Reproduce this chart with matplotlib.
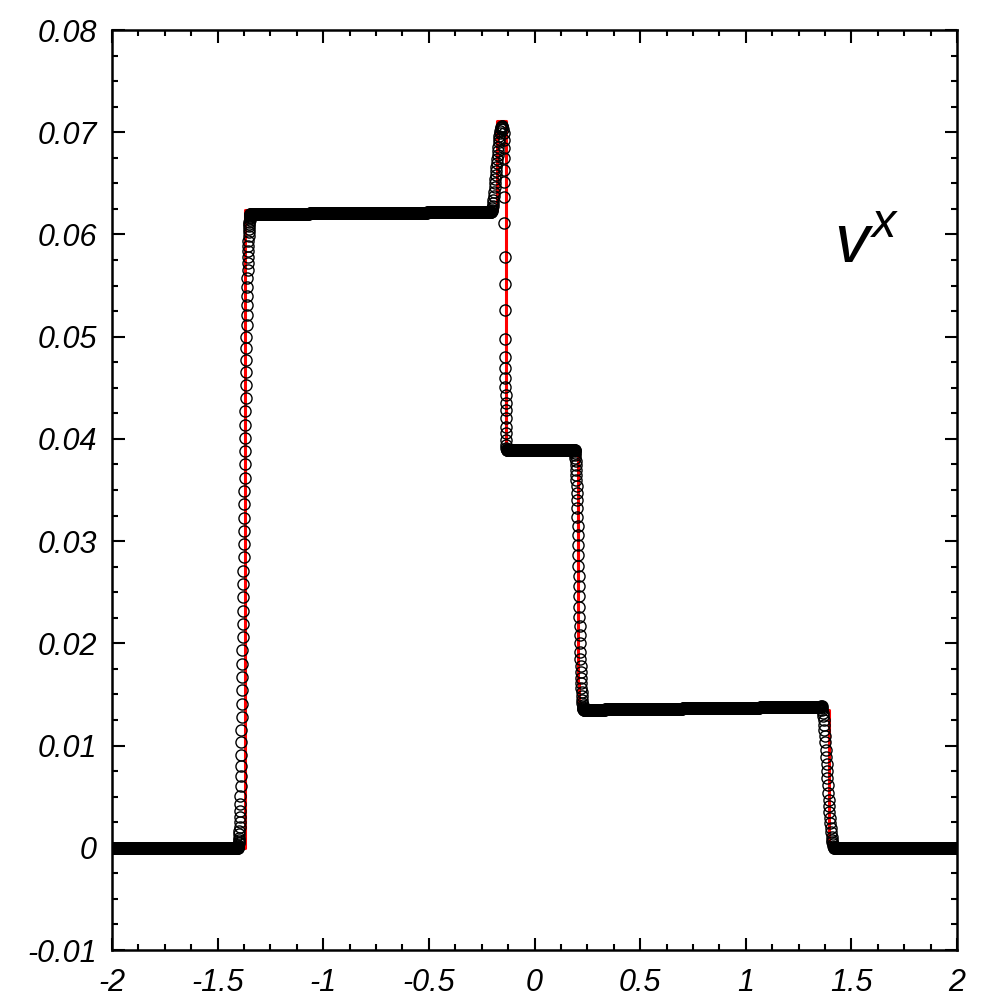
import matplotlib
matplotlib.use('Agg')
import matplotlib.pyplot as plt
from matplotlib.ticker import MultipleLocator
import numpy as np

plt.rcParams['font.family'] = ['Liberation Sans', 'DejaVu Sans']
plt.rcParams['font.style'] = 'italic'
plt.rcParams['mathtext.fontset'] = 'custom'
plt.rcParams['mathtext.it'] = 'Liberation Sans:italic'
plt.rcParams['mathtext.rm'] = 'Liberation Sans:italic'

# exact solution (red line)
exact_x = [-2.0, -1.371, -1.371, -0.178, -0.178, -0.133, -0.133, 0.208, 0.208, 0.212, 0.212, 1.395, 1.395, 2.0]
exact_y = [0.0, 0.0, 0.0624, 0.0624, 0.0711, 0.0711, 0.0389, 0.0389, 0.0161, 0.0161, 0.0135, 0.0135, 0.0, 0.0]

# numerical solution: flat states (x_start, x_end, y_start, y_end)
flat_states = [
    (-2.0, -1.405, 0.0, 0.0),
    (-1.345, -0.205, 0.0620, 0.0622),
    (-0.130, 0.190, 0.0389, 0.0389),
    (0.232, 1.355, 0.0135, 0.0138),
    (1.420, 2.0, 0.0, 0.0),
]

# numerical solution: points through the transitions (values in 1e-3)
left_x = (-1.405, -1.345)
left_y = [0, 0.05, 0.1, 0.2, 0.3, 0.45, 0.6, 0.8, 1.0, 1.3, 1.6, 2.0, 2.5, 3.0, 3.6,
          4.3, 5.1, 6.0, 7.0, 8.0, 9.1, 10.3, 11.5, 12.8, 14.1, 15.4, 16.7, 18.0, 19.3,
          20.6, 21.9, 23.2, 24.5, 25.8, 27.1, 28.4, 29.7, 31.0, 32.3, 33.6, 34.9, 36.2,
          37.5, 38.8, 40.1, 41.4, 42.7, 44.0, 45.3, 46.5, 47.7, 48.9, 50.0, 51.1, 52.1,
          53.1, 54.0, 54.9, 55.7, 56.5, 57.2, 57.8, 58.4, 58.9, 59.4, 59.8, 60.2, 60.5,
          60.8, 61.0, 61.2, 61.4, 61.6, 61.7, 61.8, 61.9, 62.0]

spike_up_x = (-0.205, -0.150)
spike_up_y = [62.2, 62.3, 62.4, 62.6, 62.8, 63.1, 63.4, 63.8, 64.2, 64.6, 65.0, 65.4,
              65.8, 66.2, 66.6, 67.0, 67.4, 67.8, 68.2, 68.6, 69.0, 69.3, 69.6, 69.9,
              70.1, 70.3, 70.45, 70.55, 70.6, 70.6, 70.5, 70.3]
spike_down_x = (-0.146, -0.131)
spike_down_y = [69.9, 69.2, 68.5, 67.5, 66.3, 65.1, 63.7, 61.1, 57.8, 55.2, 52.6, 49.8,
                48.0, 46.9, 46.0, 45.1, 44.3, 43.5, 42.8, 42.0, 41.2, 40.6, 39.9, 39.4,
                39.1, 39.0, 38.95, 38.9]

mid_x = (0.190, 0.232)
mid_y = [38.9, 38.8, 38.6, 38.4, 38.1, 37.8, 37.4, 37.0, 36.5, 36.0, 35.4, 34.7, 34.0,
         33.2, 32.4, 31.5, 30.6, 29.6, 28.6, 27.6, 26.6, 25.6, 24.6, 23.6, 22.6, 21.7,
         20.8, 20.0, 19.2, 18.5, 17.8, 17.2, 16.6, 16.1, 15.6, 15.2, 14.8, 14.5, 14.2,
         14.0, 13.8, 13.7, 13.6, 13.55, 13.5]

right_x = (1.355, 1.420)
right_y = [13.8, 13.9, 13.85, 13.7, 13.5, 13.2, 12.9, 12.5, 12.0, 11.5, 10.9, 10.3, 9.6,
           8.9, 8.2, 7.5, 6.8, 6.1, 5.4, 4.7, 4.1, 3.5, 2.9, 2.4, 1.9, 1.5, 1.1, 0.8,
           0.55, 0.35, 0.2, 0.1, 0.05, 0.0]

xs, ys = [], []
for x0, x1, y0, y1 in flat_states:
    n = int(round((x1 - x0) / 0.0025)) + 1
    xs.append(np.linspace(x0, x1, n))
    ys.append(np.linspace(y0, y1, n))
for (x0, x1), yv in [(left_x, left_y), (spike_up_x, spike_up_y),
                     (spike_down_x, spike_down_y), (mid_x, mid_y), (right_x, right_y)]:
    xs.append(np.linspace(x0, x1, len(yv)))
    ys.append(np.array(yv) * 1e-3)
num_x = np.concatenate(xs)
num_y = np.concatenate(ys)

fig = plt.figure(figsize=(10, 10), dpi=100)
ax = fig.add_axes([0.112, 0.05, 0.845, 0.92])

ax.plot(exact_x, exact_y, color='red', lw=2.2, zorder=1)
ax.plot(num_x, num_y, ls='none', marker='o', ms=8.0, mfc='none', mec='black', mew=1.0, zorder=2)

ax.set_xlim(-2, 2)
ax.set_ylim(-0.01, 0.08)
ax.xaxis.set_major_locator(MultipleLocator(0.5))
ax.xaxis.set_minor_locator(MultipleLocator(0.125))
ax.yaxis.set_major_locator(MultipleLocator(0.01))
ax.yaxis.set_minor_locator(MultipleLocator(0.0025))
ax.xaxis.set_major_formatter(lambda v, p: '0' if abs(v) < 1e-9 else '%g' % v)
ax.yaxis.set_major_formatter(lambda v, p: '0' if abs(v) < 1e-9 else '%g' % round(v, 3))
ax.tick_params(which='both', direction='in', top=True, right=True, width=1.5, labelsize=22)
ax.tick_params(which='major', length=9)
ax.tick_params(axis='x', which='major', pad=13)
ax.tick_params(axis='y', which='major', pad=11)
ax.tick_params(which='minor', length=4.5)
for s in ax.spines.values():
    s.set_linewidth(1.8)
for lab in ax.get_xticklabels() + ax.get_yticklabels():
    lab.set_fontstyle('italic')

ax.text(1.418, 0.0572, r'$v^{x}$', fontsize=50, color='black')

fig.savefig('out.png', dpi=100)
